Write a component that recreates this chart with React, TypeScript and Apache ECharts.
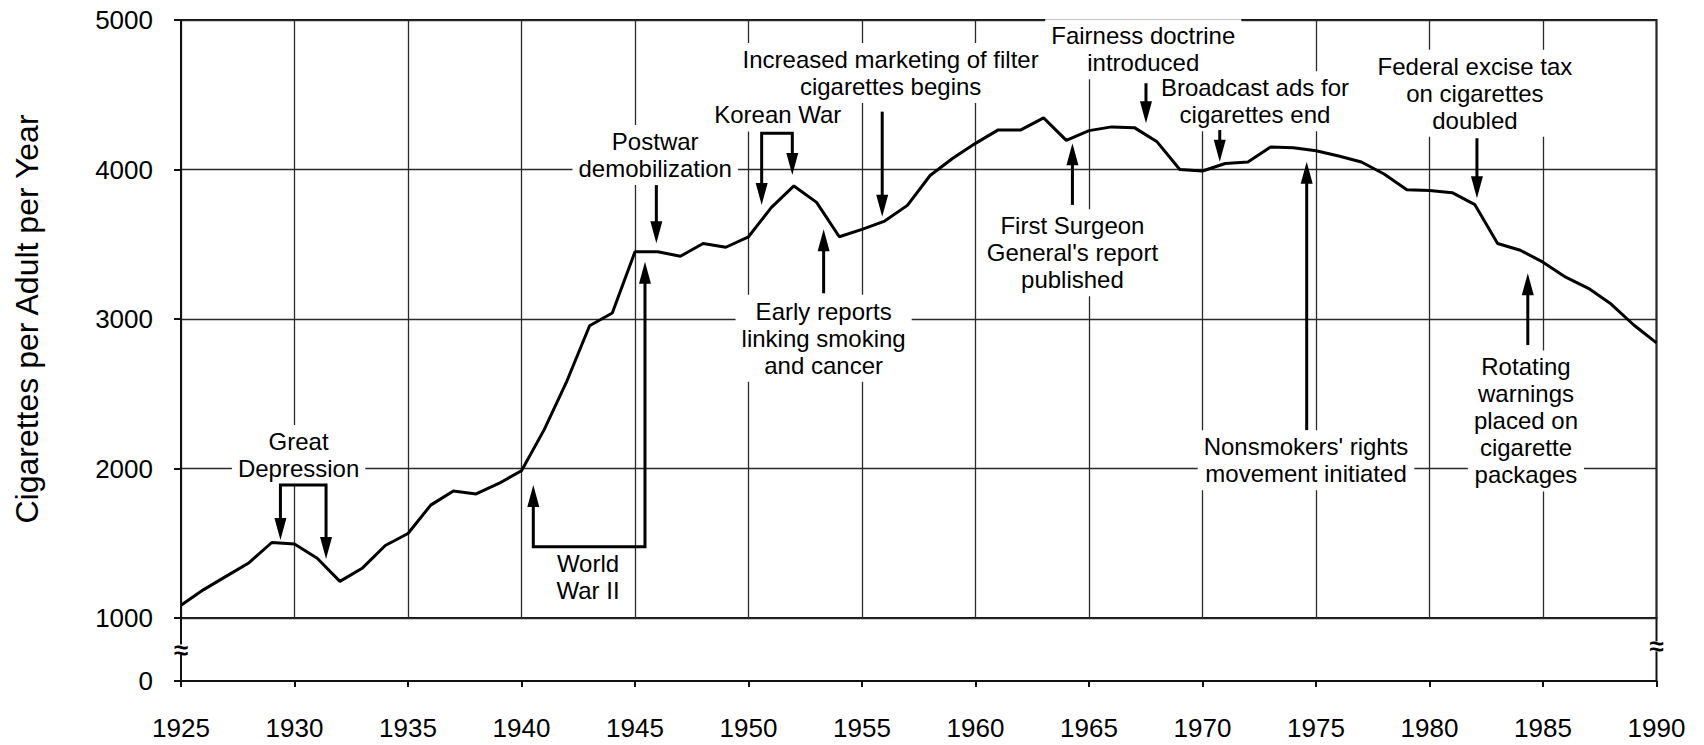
import React, { useEffect, useRef } from 'react';
import * as echarts from 'echarts';

// ---- Data ----
const years = [
  1925, 1926, 1927, 1928, 1929, 1930, 1931, 1932, 1933, 1934,
  1935, 1936, 1937, 1938, 1939, 1940, 1941, 1942, 1943, 1944,
  1945, 1946, 1947, 1948, 1949, 1950, 1951, 1952, 1953, 1954,
  1955, 1956, 1957, 1958, 1959, 1960, 1961, 1962, 1963, 1964,
  1965, 1966, 1967, 1968, 1969, 1970, 1971, 1972, 1973, 1974,
  1975, 1976, 1977, 1978, 1979, 1980, 1981, 1982, 1983, 1984,
  1985, 1986, 1987, 1988, 1989, 1990,
];

const cigarettesPerAdult = [
  1085, 1190, 1280, 1370, 1505, 1495, 1400, 1245, 1335, 1485,
  1565, 1755, 1850, 1830, 1900, 1985, 2260, 2585, 2955, 3040,
  3450, 3450, 3420, 3505, 3480, 3550, 3745, 3890, 3780, 3550,
  3600, 3655, 3760, 3960, 4075, 4175, 4265, 4265, 4345, 4195,
  4260, 4285, 4280, 4185, 4000, 3990, 4040, 4050, 4150, 4145,
  4125, 4090, 4050, 3970, 3865, 3860, 3845, 3765, 3505, 3460,
  3380, 3280, 3205, 3100, 2960, 2840,
];

const yAxisTitle = 'Cigarettes per Adult per Year';

// Annotation texts and their anchors (centre of text block) in data coordinates [year, value]
const annotationTexts = [
  'Great\nDepression',
  'World\nWar II',
  'Postwar\ndemobilization',
  'Korean War',
  'Increased marketing of filter\ncigarettes begins',
  'Early reports\nlinking smoking\nand cancer',
  'Fairness doctrine\nintroduced',
  'Broadcast ads for\ncigarettes end',
  "First Surgeon\nGeneral's report\npublished",
  'Federal excise tax\non cigarettes\ndoubled',
  'Rotating\nwarnings\nplaced on\ncigarette\npackages',
  "Nonsmokers' rights\nmovement initiated",
];

const annotationAnchors = [
  [1930.18, 2090],
  [1942.93, 1277],
  [1945.89, 4097],
  [1951.29, 4365],
  [1956.26, 4645],
  [1953.31, 2871],
  [1967.39, 4805],
  [1972.31, 4457],
  [1964.27, 3443],
  [1982.0, 4510],
  [1984.25, 2318],
  [1974.56, 2055],
];

// Arrow paths in data coordinates; the head sits on the last point (and on the first when both = true)
const annotationArrows = [
  { points: [[1929.38, 1522], [1929.38, 1890], [1931.39, 1890], [1931.39, 1395]], both: true },
  { points: [[1940.52, 1890], [1940.52, 1477], [1945.44, 1477], [1945.44, 3383]], both: true },
  { points: [[1945.94, 3896], [1945.94, 3506]], both: false },
  { points: [[1950.58, 3763], [1950.58, 4242], [1951.93, 4242], [1951.93, 3963]], both: true },
  { points: [[1955.89, 4387], [1955.89, 3684]], both: false },
  { points: [[1953.31, 3172], [1953.31, 3600]], both: false },
  { points: [[1967.51, 4577], [1967.51, 4309]], both: false },
  { points: [[1970.76, 4264], [1970.76, 4052]], both: false },
  { points: [[1964.27, 3763], [1964.27, 4175]], both: false },
  { points: [[1982.09, 4209], [1982.09, 3807]], both: false },
  { points: [[1984.33, 2826], [1984.33, 3306]], both: false },
  { points: [[1974.59, 2257], [1974.59, 4052]], both: false },
];

const FONT = "'Liberation Sans', Arial, Helvetica, sans-serif";

export default function App() {
  const ref = useRef<HTMLDivElement>(null);

  useEffect(() => {
    const chart = echarts.init(ref.current as HTMLDivElement, null, { renderer: 'svg' });
    const axisColor = '#111';
    const gridColor = '#2a2a2a';

    const option: any = {
      animation: false,
      backgroundColor: '#ffffff',
      grid: [
        { left: 181, right: 47.5, top: 20, height: 598, show: true, borderColor: axisColor, borderWidth: 2 },
        { left: 181, right: 47.5, top: 618, height: 63, show: true, borderColor: axisColor, borderWidth: 2 },
      ],
      xAxis: [
        {
          gridIndex: 0, type: 'value', min: 1925, max: 1990, interval: 5,
          axisLabel: { show: false }, axisTick: { show: false }, axisLine: { show: false },
          splitLine: { show: true, lineStyle: { color: gridColor, width: 1.3 } },
        },
        {
          gridIndex: 1, type: 'value', min: 1925, max: 1990, interval: 5,
          axisLine: { show: true, lineStyle: { color: axisColor, width: 2 } },
          axisTick: { show: true, length: 6, lineStyle: { color: axisColor, width: 2 } },
          axisLabel: {
            fontSize: 26, color: '#000', margin: 34, fontFamily: FONT,
            formatter: (v: number) => String(v),
          },
          splitLine: { show: false },
        },
      ],
      yAxis: [
        {
          gridIndex: 0, type: 'value', min: 1000, max: 5000, interval: 1000,
          name: yAxisTitle, nameLocation: 'middle', nameGap: 138,
          nameTextStyle: { fontSize: 32, color: '#000', fontFamily: FONT },
          axisLine: { show: true, lineStyle: { color: axisColor, width: 2 } },
          axisTick: { show: true, length: 7, lineStyle: { color: axisColor, width: 2 } },
          axisLabel: {
            fontSize: 26, color: '#000', margin: 28, fontFamily: FONT,
            formatter: (v: number) => String(v),
          },
          splitLine: { show: true, lineStyle: { color: gridColor, width: 1.3 } },
        },
        {
          gridIndex: 1, type: 'value', min: 0, max: 1, interval: 1,
          axisLine: { show: true, lineStyle: { color: axisColor, width: 2 } },
          axisTick: { show: true, length: 7, lineStyle: { color: axisColor, width: 2 } },
          axisLabel: {
            fontSize: 26, color: '#000', margin: 28, fontFamily: FONT,
            formatter: (v: number) => (v === 0 ? '0' : ''),
          },
          splitLine: { show: false },
        },
      ],
      series: [
        {
          type: 'line', xAxisIndex: 0, yAxisIndex: 0,
          data: years.map((y, i) => [y, cigarettesPerAdult[i]]),
          symbol: 'none', lineStyle: { color: '#000', width: 3 }, z: 5,
        },
      ],
    };
    chart.setOption(option);

    const P = (p: number[]) => chart.convertToPixel({ gridIndex: 0 } as any, p) as number[];
    const P2 = (p: number[]) => chart.convertToPixel({ gridIndex: 1 } as any, p) as number[];
    const elements: any[] = [];
    const HEAD_L = 22;
    const HEAD_W = 12;

    annotationTexts.forEach((t, i) => {
      const [x, y] = P(annotationAnchors[i]);
      elements.push({
        type: 'text', z: 55, x, y,
        style: {
          text: t, fontSize: 24, fontFamily: FONT, fill: '#000',
          align: 'center', verticalAlign: 'middle', lineHeight: 27,
          backgroundColor: '#fff', padding: [3, 6],
        },
      });
    });

    annotationArrows.forEach((a) => {
      const pts = a.points.map(P);
      const shaft = pts.map((p) => [p[0], p[1]]);
      const addHead = (tip: number[], prev: number[]) => {
        const dx = tip[0] - prev[0];
        const dy = tip[1] - prev[1];
        const len = Math.hypot(dx, dy) || 1;
        const ux = dx / len;
        const uy = dy / len;
        const bx = tip[0] - ux * HEAD_L;
        const by = tip[1] - uy * HEAD_L;
        elements.push({
          type: 'polygon', z: 61,
          shape: {
            points: [
              [tip[0], tip[1]],
              [bx - uy * HEAD_W / 2, by + ux * HEAD_W / 2],
              [bx + uy * HEAD_W / 2, by - ux * HEAD_W / 2],
            ],
          },
          style: { fill: '#000' },
        });
        return [tip[0] - ux * (HEAD_L - 4), tip[1] - uy * (HEAD_L - 4)];
      };
      shaft[shaft.length - 1] = addHead(pts[pts.length - 1], pts[pts.length - 2]);
      if (a.both) shaft[0] = addHead(pts[0], pts[1]);
      elements.push({
        type: 'polyline', z: 60,
        shape: { points: shaft },
        style: { stroke: '#000', lineWidth: 3, fill: null, lineJoin: 'miter' },
      });
    });

    // Axis-break marks on the left and right frame lines
    [[1925, 0.5], [1990, 0.55]].forEach((p) => {
      const [x, y] = P2(p);
      elements.push({
        type: 'text', z: 70, x, y,
        style: {
          text: '≈', fontSize: 26, fontWeight: 'bold', fontFamily: FONT, fill: '#000',
          align: 'center', verticalAlign: 'middle', lineHeight: 10,
          backgroundColor: '#fff', padding: [0, 0],
        },
      });
    });

    chart.setOption({ graphic: { elements } });

    return () => {
      chart.dispose();
    };
  }, []);

  return (
    <div
      ref={ref}
      style={{ position: 'fixed', left: 0, top: 0, width: 1704, height: 745, background: '#fff' }}
    />
  );
}
